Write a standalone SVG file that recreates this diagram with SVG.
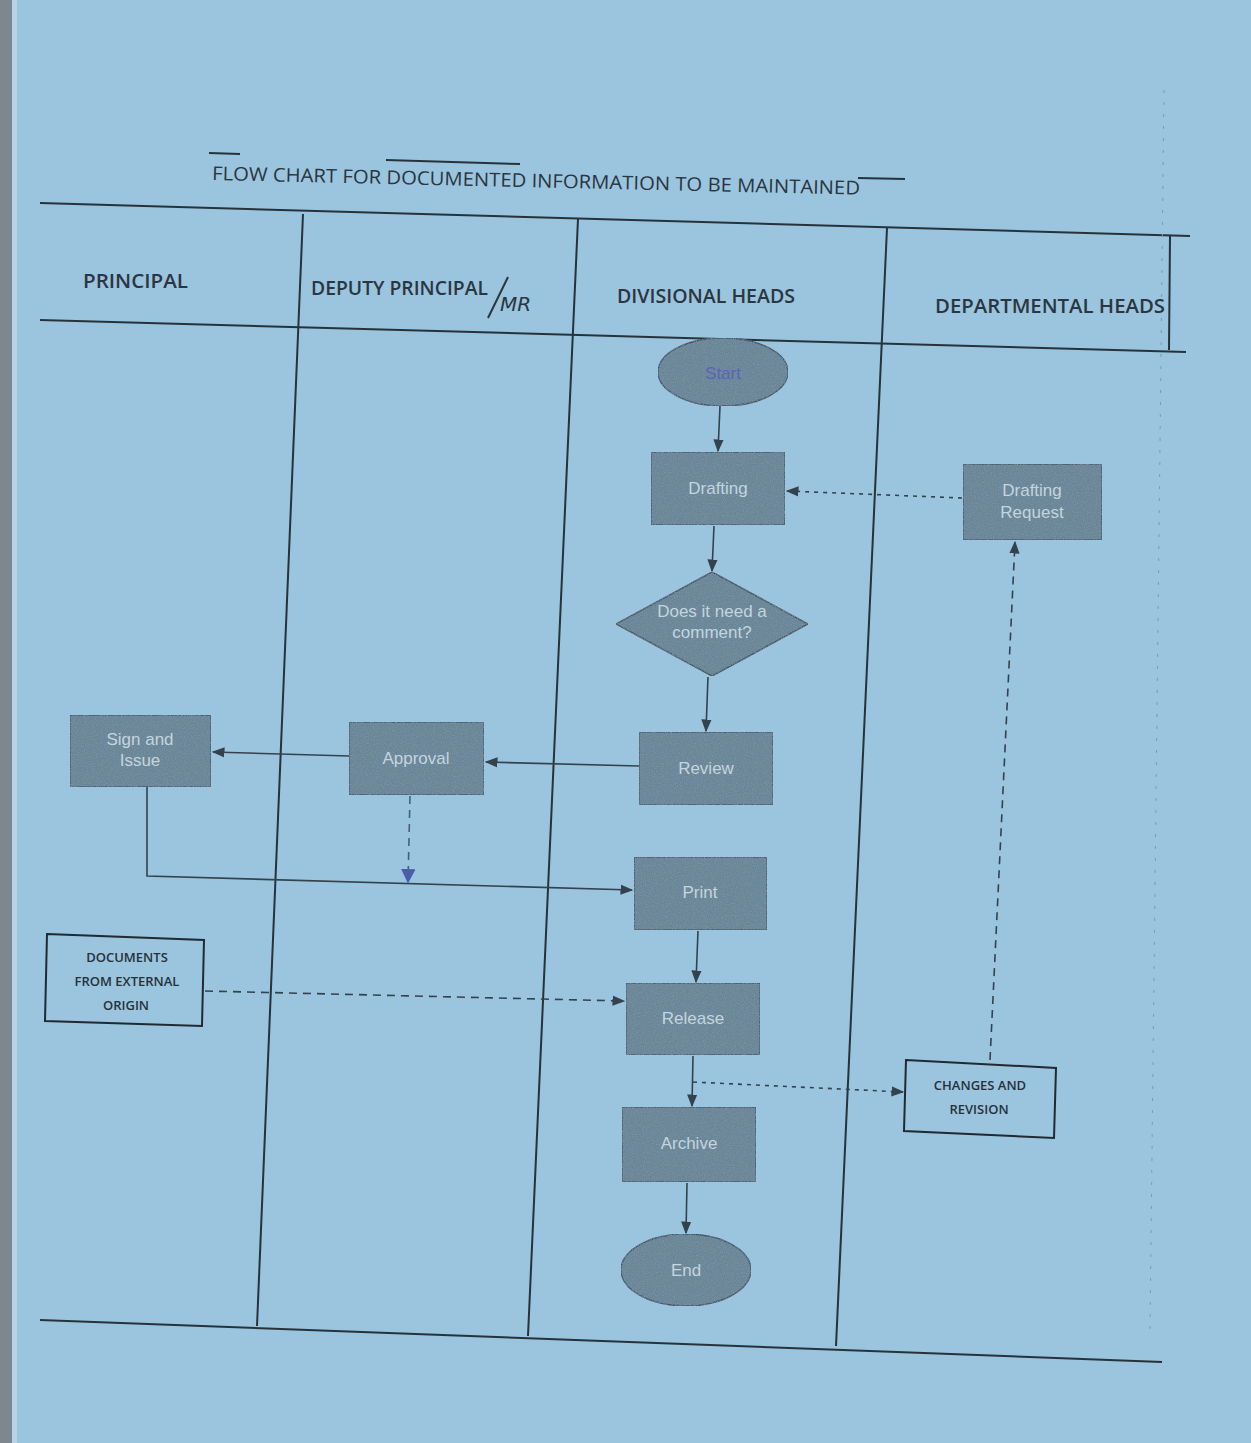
<svg xmlns="http://www.w3.org/2000/svg" width="1251" height="1443" viewBox="0 0 1251 1443">
  <defs>
    <style>
      .lane { stroke: #26333b; stroke-width: 2; fill: none; }
      .hdr { font-family: "Open Sans", "Liberation Sans", sans-serif; font-size: 19px; fill: #2a3640; font-weight: 600; }
      .title { font-family: "Open Sans", "Liberation Sans", sans-serif; font-size: 19px; fill: #2a3640; }
      .proc { fill: #68869a; stroke: #44596a; stroke-width: 1.5; filter: url(#grain); }
      .ptxt { font-family: "Liberation Sans", sans-serif; font-size: 17px; fill: #c3d5df; text-anchor: middle; }
      .obox { fill: none; stroke: #1f2a31; stroke-width: 2; }
      .otxt { font-family: "Open Sans", "Liberation Sans", sans-serif; font-size: 13px; font-weight: 600; fill: #26323a; text-anchor: middle; }
      .conn { stroke: #33434d; stroke-width: 1.6; fill: none; marker-end: url(#arr); }
      .dash { stroke-dasharray: 8 6; }
      .dot { stroke-dasharray: 4 5; }
    </style>
    <marker id="arr" viewBox="0 0 10 10" refX="9" refY="5" markerWidth="8" markerHeight="8" orient="auto-start-reverse">
      <path d="M0,1 L10,5 L0,9 z" fill="#33434d"/>
    </marker>
    <marker id="arrB" viewBox="0 0 10 10" refX="9" refY="5" markerWidth="9" markerHeight="9" orient="auto">
      <path d="M0,0 L10,5 L0,10 z" fill="#4a5ea8"/>
    </marker>
    <filter id="grain" x="0" y="0" width="100%" height="100%">
      <feTurbulence type="fractalNoise" baseFrequency="0.9" numOctaves="2" seed="3" result="n"/>
      <feColorMatrix in="n" type="matrix" values="0 0 0 0 0.22  0 0 0 0 0.29  0 0 0 0 0.34  0 0 0 2.2 -0.9" result="spots"/>
      <feComposite in="spots" in2="SourceGraphic" operator="in" result="s2"/>
      <feMerge><feMergeNode in="SourceGraphic"/><feMergeNode in="s2"/></feMerge>
    </filter>
  </defs>

  <!-- page -->
  <rect x="0" y="0" width="1251" height="1443" fill="#9bc4df"/>
  <rect x="0" y="0" width="12" height="1443" fill="#7d8790"/>
  <rect x="12" y="0" width="5" height="1443" fill="#b9d3e5"/>

  <!-- title -->
  <g id="title">
    <text class="title" x="212" y="180" textLength="648" lengthAdjust="spacingAndGlyphs" transform="rotate(1.3 212 180)">FLOW CHART FOR DOCUMENTED INFORMATION TO BE MAINTAINED</text>
    <line x1="209" y1="153" x2="240" y2="154" class="lane" stroke-width="1.2"/>
    <line x1="386" y1="160" x2="520" y2="164" class="lane" stroke-width="1.2"/>
    <line x1="858" y1="178" x2="905" y2="179" class="lane" stroke-width="1.2"/>
  </g>

  <!-- swimlane grid -->
  <g id="lanes">
    <line class="lane" x1="40" y1="203" x2="1190" y2="236"/>
    <line class="lane" x1="40" y1="320" x2="1186" y2="352"/>
    <line class="lane" x1="40" y1="1320" x2="1162" y2="1362"/>
    <line class="lane" x1="303" y1="214" x2="257" y2="1326"/>
    <line class="lane" x1="578" y1="219" x2="528" y2="1336"/>
    <line class="lane" x1="887" y1="228" x2="836" y2="1346"/>
    <line class="lane" x1="1170" y1="236" x2="1169" y2="350" stroke-width="1.5"/>
    <line x1="1164" y1="90" x2="1150" y2="1330" stroke="#7f9bad" stroke-width="1" stroke-dasharray="3 9"/>
    <text class="hdr" x="83" y="288" textLength="105" lengthAdjust="spacingAndGlyphs">PRINCIPAL</text>
    <text class="hdr" x="311" y="295" textLength="177" lengthAdjust="spacingAndGlyphs">DEPUTY PRINCIPAL</text>
    <line x1="508" y1="277" x2="488" y2="318" stroke="#2a3640" stroke-width="2"/>
    <text x="500" y="311" font-family="DejaVu Sans, sans-serif" font-style="italic" font-size="20" fill="#2a3640">MR</text>
    <text class="hdr" x="617" y="303" textLength="178" lengthAdjust="spacingAndGlyphs">DIVISIONAL HEADS</text>
    <text class="hdr" x="935" y="313" textLength="230" lengthAdjust="spacingAndGlyphs">DEPARTMENTAL HEADS</text>
  </g>

  <!-- connectors -->
  <g id="connectors">
    <line class="conn" x1="720" y1="406" x2="718" y2="451"/>
    <line class="conn" x1="714" y1="526" x2="712" y2="571"/>
    <line class="conn" x1="708" y1="677" x2="706" y2="731"/>
    <line class="conn" x1="639" y1="766" x2="486" y2="762"/>
    <line class="conn" x1="349" y1="756" x2="213" y2="752"/>
    <polyline class="conn" points="147,787 147,876 632,890"/>
    <line class="dash" x1="410" y1="796" x2="408" y2="882" stroke="#46607a" stroke-width="1.6" marker-end="url(#arrB)"/>
    <line class="conn" x1="698" y1="931" x2="696" y2="982"/>
    <line class="conn dash" x1="205" y1="991" x2="624" y2="1001" stroke-width="2"/>
    <line class="conn" x1="693" y1="1056" x2="692" y2="1106"/>
    <line class="conn dot" x1="693" y1="1082" x2="903" y2="1092"/>
    <line class="conn" x1="687" y1="1183" x2="686" y2="1233"/>
    <line class="conn dash" x1="990" y1="1060" x2="1015" y2="542"/>
    <line class="conn dot" x1="962" y1="498" x2="787" y2="491"/>
  </g>

  <!-- nodes -->
  <g id="start">
    <ellipse class="proc" cx="723" cy="372" rx="65" ry="34"/>
    <text class="ptxt" x="723" y="379" style="fill:#5a63b8">Start</text>
  </g>
  <g id="drafting">
    <rect class="proc" x="651" y="452" width="134" height="73"/>
    <text class="ptxt" x="718" y="494">Drafting</text>
  </g>
  <g id="decision">
    <polygon class="proc" points="712,572 808,624 712,676 616,624"/>
    <text class="ptxt" x="712" y="617">Does it need a</text>
    <text class="ptxt" x="712" y="638">comment?</text>
  </g>
  <g id="review">
    <rect class="proc" x="639" y="732" width="134" height="73"/>
    <text class="ptxt" x="706" y="774">Review</text>
  </g>
  <g id="approval">
    <rect class="proc" x="349" y="722" width="135" height="73"/>
    <text class="ptxt" x="416" y="764">Approval</text>
  </g>
  <g id="sign-issue">
    <rect class="proc" x="70" y="715" width="141" height="72"/>
    <text class="ptxt" x="140" y="745">Sign and</text>
    <text class="ptxt" x="140" y="766">Issue</text>
  </g>
  <g id="print">
    <rect class="proc" x="634" y="857" width="133" height="73"/>
    <text class="ptxt" x="700" y="898">Print</text>
  </g>
  <g id="release">
    <rect class="proc" x="626" y="983" width="134" height="72"/>
    <text class="ptxt" x="693" y="1024">Release</text>
  </g>
  <g id="archive">
    <rect class="proc" x="622" y="1107" width="134" height="75"/>
    <text class="ptxt" x="689" y="1149">Archive</text>
  </g>
  <g id="end">
    <ellipse class="proc" cx="686" cy="1270" rx="65" ry="36"/>
    <text class="ptxt" x="686" y="1276">End</text>
  </g>
  <g id="drafting-request">
    <rect class="proc" x="963" y="464" width="139" height="76"/>
    <text class="ptxt" x="1032" y="496">Drafting</text>
    <text class="ptxt" x="1032" y="518">Request</text>
  </g>
  <g id="external-docs">
    <polygon class="obox" points="47,934 204,940 202,1026 45,1021"/>
    <text class="otxt" x="127" y="962">DOCUMENTS</text>
    <text class="otxt" x="127" y="986">FROM EXTERNAL</text>
    <text class="otxt" x="126" y="1010">ORIGIN</text>
  </g>
  <g id="changes-revision">
    <polygon class="obox" points="906,1060 1056,1068 1054,1138 904,1131"/>
    <text class="otxt" x="980" y="1090">CHANGES AND</text>
    <text class="otxt" x="979" y="1114">REVISION</text>
  </g>
</svg>
